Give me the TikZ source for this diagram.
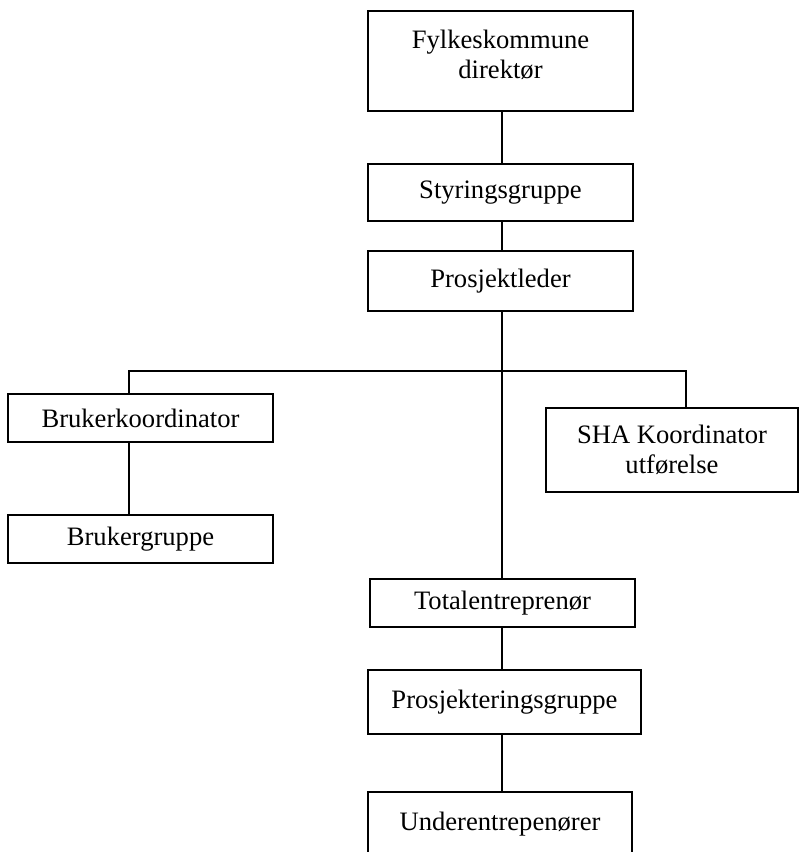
\documentclass[tikz,border=0pt]{standalone}
\usepackage{fontspec}
\setmainfont{Liberation Serif}
\begin{document}
\begin{tikzpicture}[x=1pt,y=-1pt,line width=1.5pt,
    box/.style={draw,align=center,inner sep=0pt,minimum width=265pt},
    every node/.append style={font=\fontsize{26.6}{30}\selectfont}]
      \useasboundingbox (0,0) rectangle (799,852);
      \clip (0,0) rectangle (799,852);

      \node[box,minimum height=100pt,text depth=14pt] (dir) at (500.5,61) {Fylkeskommune\\direktør};
      \node[box,minimum height=57pt]  (sty) at (500.5,192.5) {Styringsgruppe};
      \node[box,minimum height=60pt]  (pl)  at (500.5,281) {Prosjektleder};
      \node[box,minimum height=48pt]  (bk)  at (140.5,418) {Brukerkoordinator};
      \node[box,minimum height=48pt]  (bg)  at (140.5,539) {Brukergruppe};
      \node[box,minimum width=252pt,minimum height=84pt] (sha) at (672,450) {SHA Koordinator\\utførelse};
      \node[box,minimum height=48pt]  (te)  at (502.5,603) {Totalentreprenør};
      \node[box,minimum width=273pt,minimum height=64pt] (pg) at (504.5,702) {Prosjekteringsgruppe};
      \node[box,minimum width=264pt,minimum height=80pt,text depth=22pt] (ue) at (500,832) {Underentrepenører};

      \coordinate (spine) at (502,0);
      \coordinate (busl) at (129,371);
      \coordinate (busr) at (686,371);

      % vertical line through the middle
      \draw (dir.south -| spine) -- (sty.north -| spine);
      \draw (sty.south -| spine) -- (pl.north -| spine);
      \draw (pl.south -| spine)  -- (te.north -| spine);
      \draw (te.south -| spine)  -- (pg.north -| spine);
      \draw (pg.south -| spine)  -- (ue.north -| spine);
      % side branches
      \draw (busl |- bk.north) -- (busl) -- (busr) -- (busr |- sha.north);
      \draw (busl |- bk.south) -- (busl |- bg.north);
\end{tikzpicture}
\end{document}
